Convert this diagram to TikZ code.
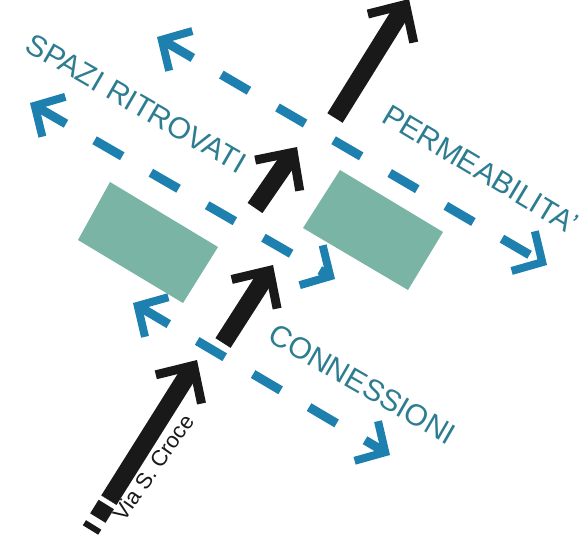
\documentclass[tikz,border=0pt]{standalone}
\usepackage{fontspec}
\setmainfont{Liberation Sans}
\usetikzlibrary{arrows.meta}
\definecolor{flowblue}{RGB}{30,128,175}
\definecolor{textteal}{RGB}{45,125,145}
\definecolor{blockgreen}{RGB}{122,180,165}
\definecolor{roadblack}{RGB}{25,25,25}
\begin{document}
\begin{tikzpicture}[x=1pt,y=-1pt]
        \tikzstyle{road}=[draw=roadblack,line width=18pt,-{Straight Barb[length=28pt,width=54pt,line width=9pt]}]
        \tikzstyle{roadend}=[draw=roadblack,line width=18pt,dash pattern=on 6pt off 8pt on 16pt off 5pt]
        \tikzstyle{flow}=[draw=flowblue,line width=9pt,dash pattern=on 32pt off 33pt,{Straight Barb[length=22pt,width=46pt,line width=8pt]}-{Straight Barb[length=22pt,width=46pt,line width=8pt]}]
        \tikzstyle{block}=[fill=blockgreen]
        \tikzstyle{flowlabel}=[text=textteal,font=\fontsize{30}{30}\selectfont,inner sep=0pt,text height=0.716em,text depth=0pt,rotate=-30]
        \tikzstyle{streetlabel}=[text=roadblack,font=\fontsize{22}{22}\selectfont,inner sep=0pt,text height=0.716em,text depth=0pt,rotate=55]
        \useasboundingbox (0,0) rectangle (585,541);
       \begin{scope}
         % buildings
         \path[block] (110,182) -- (218,247) -- (183,303) -- (78,240) -- cycle;
         \path[block] (340,170) -- (443,232) -- (408,290) -- (303,228) -- cycle;
         % blue flows
         \coordinate (aw) at (157,37);
         \coordinate (ae) at (547,265);
         \coordinate (bw) at (30,103);
         \coordinate (be) at (335,279);
         \coordinate (cw) at (133,303);
         \coordinate (ce) at (390,455);
         \draw[flow] (aw) -- (ae);
         \draw[flow] (bw) -- (be);
         \draw[flow] (cw) -- (ce);
         % via S. Croce
         \coordinate (t0) at (90.5,530);
         \coordinate (r1a) at (109,500);
         \coordinate (r1b) at (197,360);
         \coordinate (r2a) at (223,343);
         \coordinate (r2b) at (273,265);
         \coordinate (r3a) at (255,208);
         \coordinate (r3b) at (297,147);
         \coordinate (r4a) at (335,118);
         \coordinate (r4b) at (409,-1);
         \draw[roadend] (t0) -- (r1a);
         \draw[road] (r1a) -- (r1b);
         \draw[road] (r2a) -- (r2b);
         \draw[road] (r3a) -- (r3b);
         \draw[road] (r4a) -- (r4b);
         % labels
         \node[flowlabel] (spazi) at (133,109) {SPAZI RITROVATI};
         \node[flowlabel,rotate=-1] (perm) at (477,175) {PERMEABILITA'};
         \node[flowlabel] (conn) at (359,390) {CONNESSIONI};
         \node[streetlabel] (via) at (157,470) {Via S. Croce};
        \end{scope}
      \end{tikzpicture}
\end{document}
